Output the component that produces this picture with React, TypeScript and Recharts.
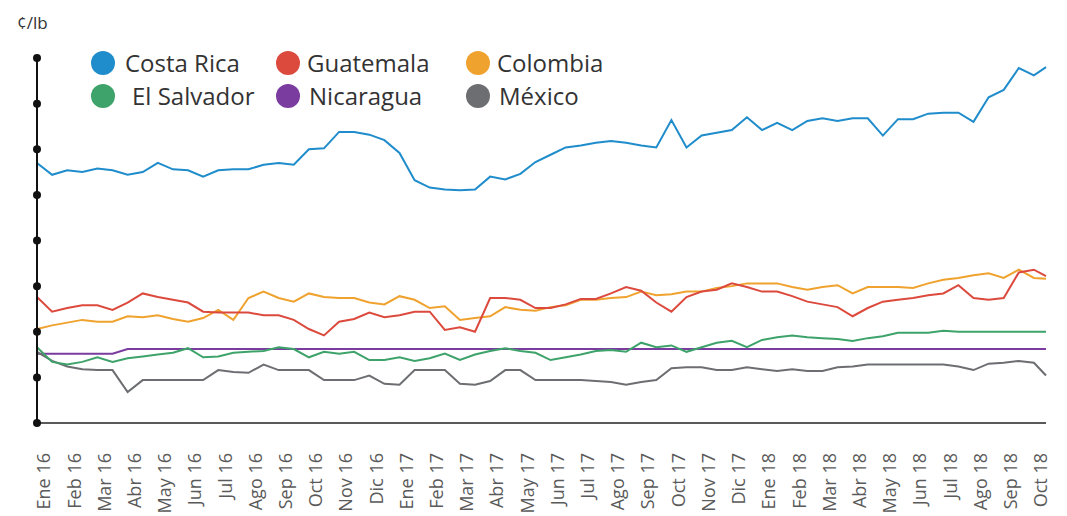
import React from 'react';
import { LineChart, Line, XAxis, YAxis } from 'recharts';

const monthLabels = [
  'Ene 16', 'Feb 16', 'Mar 16', 'Abr 16', 'May 16', 'Jun 16', 'Jul 16', 'Ago 16', 'Sep 16', 'Oct 16', 'Nov 16', 'Dic 16',
  'Ene 17', 'Feb 17', 'Mar 17', 'Abr 17', 'May 17', 'Jun 17', 'Jul 17', 'Ago 17', 'Sep 17', 'Oct 17', 'Nov 17', 'Dic 17',
  'Ene 18', 'Feb 18', 'Mar 18', 'Abr 18', 'May 18', 'Jun 18', 'Jul 18', 'Ago 18', 'Sep 18', 'Oct 18',
];

// sample dates, in months since Ene 16 (half-month steps)
const sampleMonths = [
  0, 0.5, 1, 1.5, 2, 2.5, 3, 3.5, 4, 4.5, 5, 5.5, 6, 6.5, 7, 7.5, 8, 8.5, 9, 9.5,
  10, 10.5, 11, 11.5, 12, 12.5, 13, 13.5, 14, 14.5, 15, 15.5, 16, 16.5, 17, 17.5, 18, 18.5, 19, 19.5,
  20, 20.5, 21, 21.5, 22, 22.5, 23, 23.5, 24, 24.5, 25, 25.5, 26, 26.5, 27, 27.5, 28, 28.5, 29, 29.5,
  30, 30.5, 31, 31.5, 32, 32.5, 33, 33.4,
];

const costaRica = [
  285, 272, 277, 275, 279, 277, 272, 275, 285, 278, 277, 270, 277, 278, 278, 283, 285, 283, 300, 301,
  319, 319, 316, 310, 296, 266, 258, 256, 255, 256, 270, 267, 273, 286, 294, 302, 304, 307, 309, 307,
  304, 302, 332, 302, 315, 318, 321, 335, 321, 329, 321, 331, 334, 331, 334, 334, 315, 333, 333, 339,
  340, 340, 330, 357, 365, 389, 381, 390,
];

const guatemala = [
  138, 122, 126, 129, 129, 124, 132, 142, 138, 135, 132, 122, 121, 121, 121, 118, 118, 113, 103, 96,
  111, 114, 121, 116, 118, 122, 122, 102, 105, 100, 137, 137, 135, 126, 126, 130, 136, 136, 142, 149,
  145, 132, 122, 138, 144, 146, 153, 149, 144, 144, 139, 133, 130, 127, 117, 126, 133, 135, 137, 140,
  142, 151, 137, 135, 137, 165, 168, 161,
];

const colombia = [
  103, 107, 110, 113, 111, 111, 117, 116, 118, 114, 111, 115, 124, 113, 137, 144, 137, 133, 142, 138,
  137, 137, 132, 130, 139, 135, 126, 128, 113, 115, 117, 127, 124, 123, 127, 129, 135, 135, 137, 138,
  144, 140, 141, 144, 144, 148, 150, 153, 153, 153, 149, 146, 149, 151, 142, 149, 149, 149, 148, 153,
  157, 159, 162, 164, 159, 168, 159, 158,
];

const elSalvador = [
  83, 67, 64, 67, 72, 67, 71, 73, 75, 77, 82, 72, 73, 77, 78, 79, 83, 81, 72, 78,
  76, 78, 69, 69, 72, 68, 71, 76, 69, 75, 79, 82, 79, 77, 69, 72, 75, 79, 80, 78,
  88, 83, 85, 78, 83, 88, 90, 83, 91, 94, 96, 94, 93, 92, 90, 93, 95, 99, 99, 99,
  101, 100, 100, 100, 100, 100, 100, 100,
];

const nicaragua = [
  76, 76, 76, 76, 76, 76, 81, 81, 81, 81, 81, 81, 81, 81, 81, 81, 81, 81, 81, 81,
  81, 81, 81, 81, 81, 81, 81, 81, 81, 81, 81, 81, 81, 81, 81, 81, 81, 81, 81, 81,
  81, 81, 81, 81, 81, 81, 81, 81, 81, 81, 81, 81, 81, 81, 81, 81, 81, 81, 81, 81,
  81, 81, 81, 81, 81, 81, 81, 81,
];

const mexico = [
  78, 68, 62, 59, 58, 58, 34, 47, 47, 47, 47, 47, 58, 56, 55, 64, 58, 58, 58, 47,
  47, 47, 52, 43, 42, 58, 58, 58, 43, 42, 46, 58, 58, 47, 47, 47, 47, 46, 45, 42,
  45, 47, 60, 61, 61, 58, 58, 61, 59, 57, 59, 57, 57, 61, 62, 64, 64, 64, 64, 64,
  64, 62, 58, 65, 66, 68, 66, 52,
];

const yTicks = [0, 50, 100, 150, 200, 250, 300, 350, 400];

const series = [
  { key: 'nicaragua', name: 'Nicaragua', color: '#7b3c9f', values: nicaragua },
  { key: 'mexico', name: 'México', color: '#6d6e71', values: mexico },
  { key: 'elSalvador', name: 'El Salvador', color: '#3ea36a', values: elSalvador },
  { key: 'colombia', name: 'Colombia', color: '#f0a22e', values: colombia },
  { key: 'guatemala', name: 'Guatemala', color: '#dc4a3e', values: guatemala },
  { key: 'costaRica', name: 'Costa Rica', color: '#1f8ccb', values: costaRica },
];

const legendOrder = ['costaRica', 'guatemala', 'colombia', 'elSalvador', 'nicaragua', 'mexico'];

const data = sampleMonths.map((m, i) => {
  const row: Record<string, number> = { m };
  series.forEach(s => {
    row[s.key] = s.values[i];
  });
  return row;
});

const FONT = '"Open Sans", "Noto Sans", sans-serif';

const DotTick = (props: any) => {
  const { x, y } = props;
  return <circle cx={x} cy={y} r={4} fill="#111" />;
};

const MonthTick = (props: any) => {
  const { x, y, payload } = props;
  const tx = x + 7;
  const ty = y + 30;
  return (
    <text
      x={tx}
      y={ty}
      dy="0.35em"
      textAnchor="end"
      transform={`rotate(-90, ${tx}, ${ty})`}
      fill="#5a5a5a"
      fontSize={18}
      fontFamily={FONT}
    >
      {monthLabels[payload.value]}
    </text>
  );
};

const legendSlots = [
  { cx: 95, cy: 55, tx: 117 },
  { cx: 280, cy: 55, tx: 299 },
  { cx: 470, cy: 55, tx: 489 },
  { cx: 95, cy: 88, tx: 124 },
  { cx: 280, cy: 88, tx: 301 },
  { cx: 470, cy: 88, tx: 491 },
];

const App: React.FC = () => {
  const monthTicks = monthLabels.map((_, i) => i);
  return (
    <div style={{ position: 'relative', width: 1059, height: 508, fontFamily: FONT }}>
      <div style={{ position: 'absolute', left: 9, top: 3, fontSize: 17, color: '#333' }}>¢/lb</div>
      <LineChart
        width={1059}
        height={508}
        data={data}
        margin={{ top: 50, right: 21, bottom: 3, left: 9 }}
      >
        <XAxis
          dataKey="m"
          type="number"
          domain={[0, 33.4]}
          ticks={monthTicks}
          interval={0}
          tick={<MonthTick />}
          tickLine={false}
          tickSize={0}
          tickMargin={0}
          height={90}
          axisLine={{ stroke: '#222', strokeWidth: 1.5 }}
        />
        <YAxis
          type="number"
          domain={[0, 400]}
          ticks={yTicks}
          interval={0}
          tick={<DotTick />}
          tickLine={false}
          tickSize={0}
          tickMargin={0}
          width={20}
          axisLine={{ stroke: '#111', strokeWidth: 2 }}
        />
        {series.map(s => (
          <Line
            key={s.key}
            type="linear"
            dataKey={s.key}
            name={s.name}
            stroke={s.color}
            strokeWidth={2}
            dot={false}
            activeDot={false}
            isAnimationActive={false}
          />
        ))}
      </LineChart>
      {legendOrder.map((k, i) => {
        const s = series.find(it => it.key === k)!;
        const slot = legendSlots[i];
        return (
          <React.Fragment key={k}>
            <div
              style={{
                position: 'absolute',
                left: slot.cx - 12,
                top: slot.cy - 12,
                width: 24,
                height: 24,
                borderRadius: '50%',
                background: s.color,
              }}
            />
            <div
              style={{
                position: 'absolute',
                left: slot.tx,
                top: slot.cy - 17,
                fontSize: 24,
                lineHeight: '34px',
                color: '#333',
                whiteSpace: 'nowrap',
              }}
            >
              {s.name}
            </div>
          </React.Fragment>
        );
      })}
    </div>
  );
};

export default App;
